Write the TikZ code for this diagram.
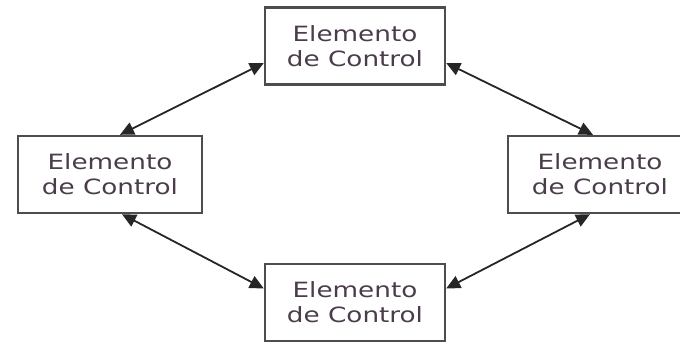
\documentclass[tikz,border=0pt]{standalone}
\usepackage{fontspec}
\newfontfamily\elemfont[FakeStretch=1.25]{DejaVu Sans}
\usetikzlibrary{arrows.meta}
\definecolor{elemtext}{HTML}{4A3C4A}
\definecolor{elemline}{HTML}{4D4D4D}

\begin{document}
\begin{tikzpicture}
      [x=0.5pt, y=-0.5pt,
      elem/.style={draw=elemline, line width=1.2pt, fill=white, align=center,
        font=\elemfont\fontsize{10.5}{12.5}\selectfont, text=elemtext,
        minimum height=38.5pt, inner sep=0pt},
      link/.style={{Triangle[length=7pt,width=6.5pt]}-{Triangle[length=7pt,width=6.5pt]},
        line width=0.9pt, draw=black!85}]

      \clip (0,0) rectangle (680,343);

      \node[elem, minimum width=90pt] (top) at (355,46) {Elemento\\de Control};
      \node[elem, minimum width=92pt] (left) at (110,174.5) {Elemento\\de Control};
      \node[elem, minimum width=92pt] (right) at (600,174.5) {Elemento\\de Control};
      \node[elem, minimum width=90pt] (bottom) at (355,302.5) {Elemento\\de Control};

      \draw[link] ([yshift=-8.5pt]top.west) -- ([xshift=5pt]left.north);
      \draw[link] ([yshift=-8.5pt]top.east) -- ([xshift=-3.5pt]right.north);
      \draw[link] ([xshift=6pt]left.south) -- ([yshift=7pt]bottom.west);
      \draw[link] ([xshift=-5pt]right.south) -- ([yshift=7pt]bottom.east);
    \end{tikzpicture}
\end{document}
